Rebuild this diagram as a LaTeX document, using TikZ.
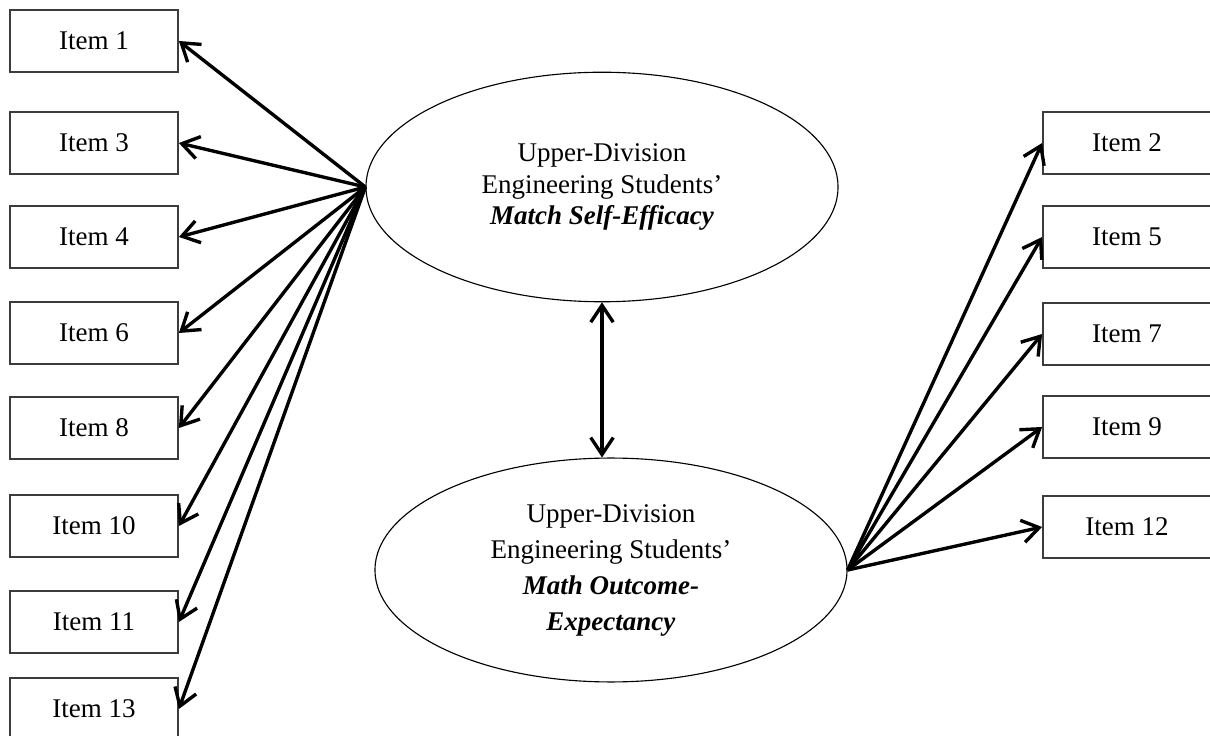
\documentclass[tikz,border=0pt]{standalone}
\usepackage{fontspec}
\setmainfont{Liberation Serif}
\usepackage{xcolor}
\usetikzlibrary{arrows.meta,shapes.geometric}
\definecolor{boxcol}{RGB}{60,60,60}
\tikzset{
  arrow/.style={-{Straight Barb[length=7.5pt,width=10pt]},line width=1.5pt},
  biarrow/.style={{Straight Barb[length=7.5pt,width=10pt]}-{Straight Barb[length=7.5pt,width=10pt]},line width=1.5pt},
  item/.style={draw=boxcol,line width=0.75pt,minimum width=74.7pt,minimum height=27.5pt,
    inner sep=0pt,font=\fontsize{12}{14}\selectfont},
  factor/.style={ellipse,draw,line width=0.5pt,minimum width=209.8pt,
    inner sep=0pt,align=center}
}

\begin{document}
\begin{tikzpicture}[x=0.4444pt,y=-0.4444pt]
  \useasboundingbox (0,0) rectangle (1210,736);
  % left items
  \node[item] (i1) at (94,41) {Item 1};
  \node[item] (i3) at (94,143) {Item 3};
  \node[item] (i4) at (94,237) {Item 4};
  \node[item] (i6) at (94,333) {Item 6};
  \node[item] (i8) at (94,428) {Item 8};
  \node[item] (i10) at (94,526) {Item 10};
  \node[item] (i11) at (94,622) {Item 11};
  \node[item] (i13) at (94,709) {Item 13};
  % right items
  \node[item] (i2) at (1127,143) {Item 2};
  \node[item] (i5) at (1127,237) {Item 5};
  \node[item] (i7) at (1127,334) {Item 7};
  \node[item] (i9) at (1127,427) {Item 9};
  \node[item] (i12) at (1127,527) {Item 12};
  % factors
  \node[factor,minimum height=102pt,font=\fontsize{12}{13.8}\selectfont] (se) at (602,187)
    {Upper-Division\\Engineering Students'\\\textbf{\textit{Match Self-Efficacy}}};
  \node[factor,minimum height=99.5pt,font=\fontsize{12}{16}\selectfont] (oe) at (611,570)
    {Upper-Division\\Engineering Students'\\\textbf{\textit{Math Outcome-}}\\\textbf{\textit{Expectancy}}};
  \draw[arrow] (se.west)--(i1.east);
  \draw[arrow] (se.west)--(i3.east);
  \draw[arrow] (se.west)--(i4.east);
  \draw[arrow] (se.west)--(i6.east);
  \draw[arrow] (se.west)--(i8.east);
  \draw[arrow] (se.west)--(i10.east);
  \draw[arrow] (se.west)--(i11.east);
  \draw[arrow] (se.west)--(i13.east);
  \draw[arrow] (oe.east)--(i2.west);
  \draw[arrow] (oe.east)--(i5.west);
  \draw[arrow] (oe.east)--(i7.west);
  \draw[arrow] (oe.east)--(i9.west);
  \draw[arrow] (oe.east)--(i12.west);
  \draw[biarrow] (se.south)--(se.south |- oe.north);
\end{tikzpicture}
\end{document}
